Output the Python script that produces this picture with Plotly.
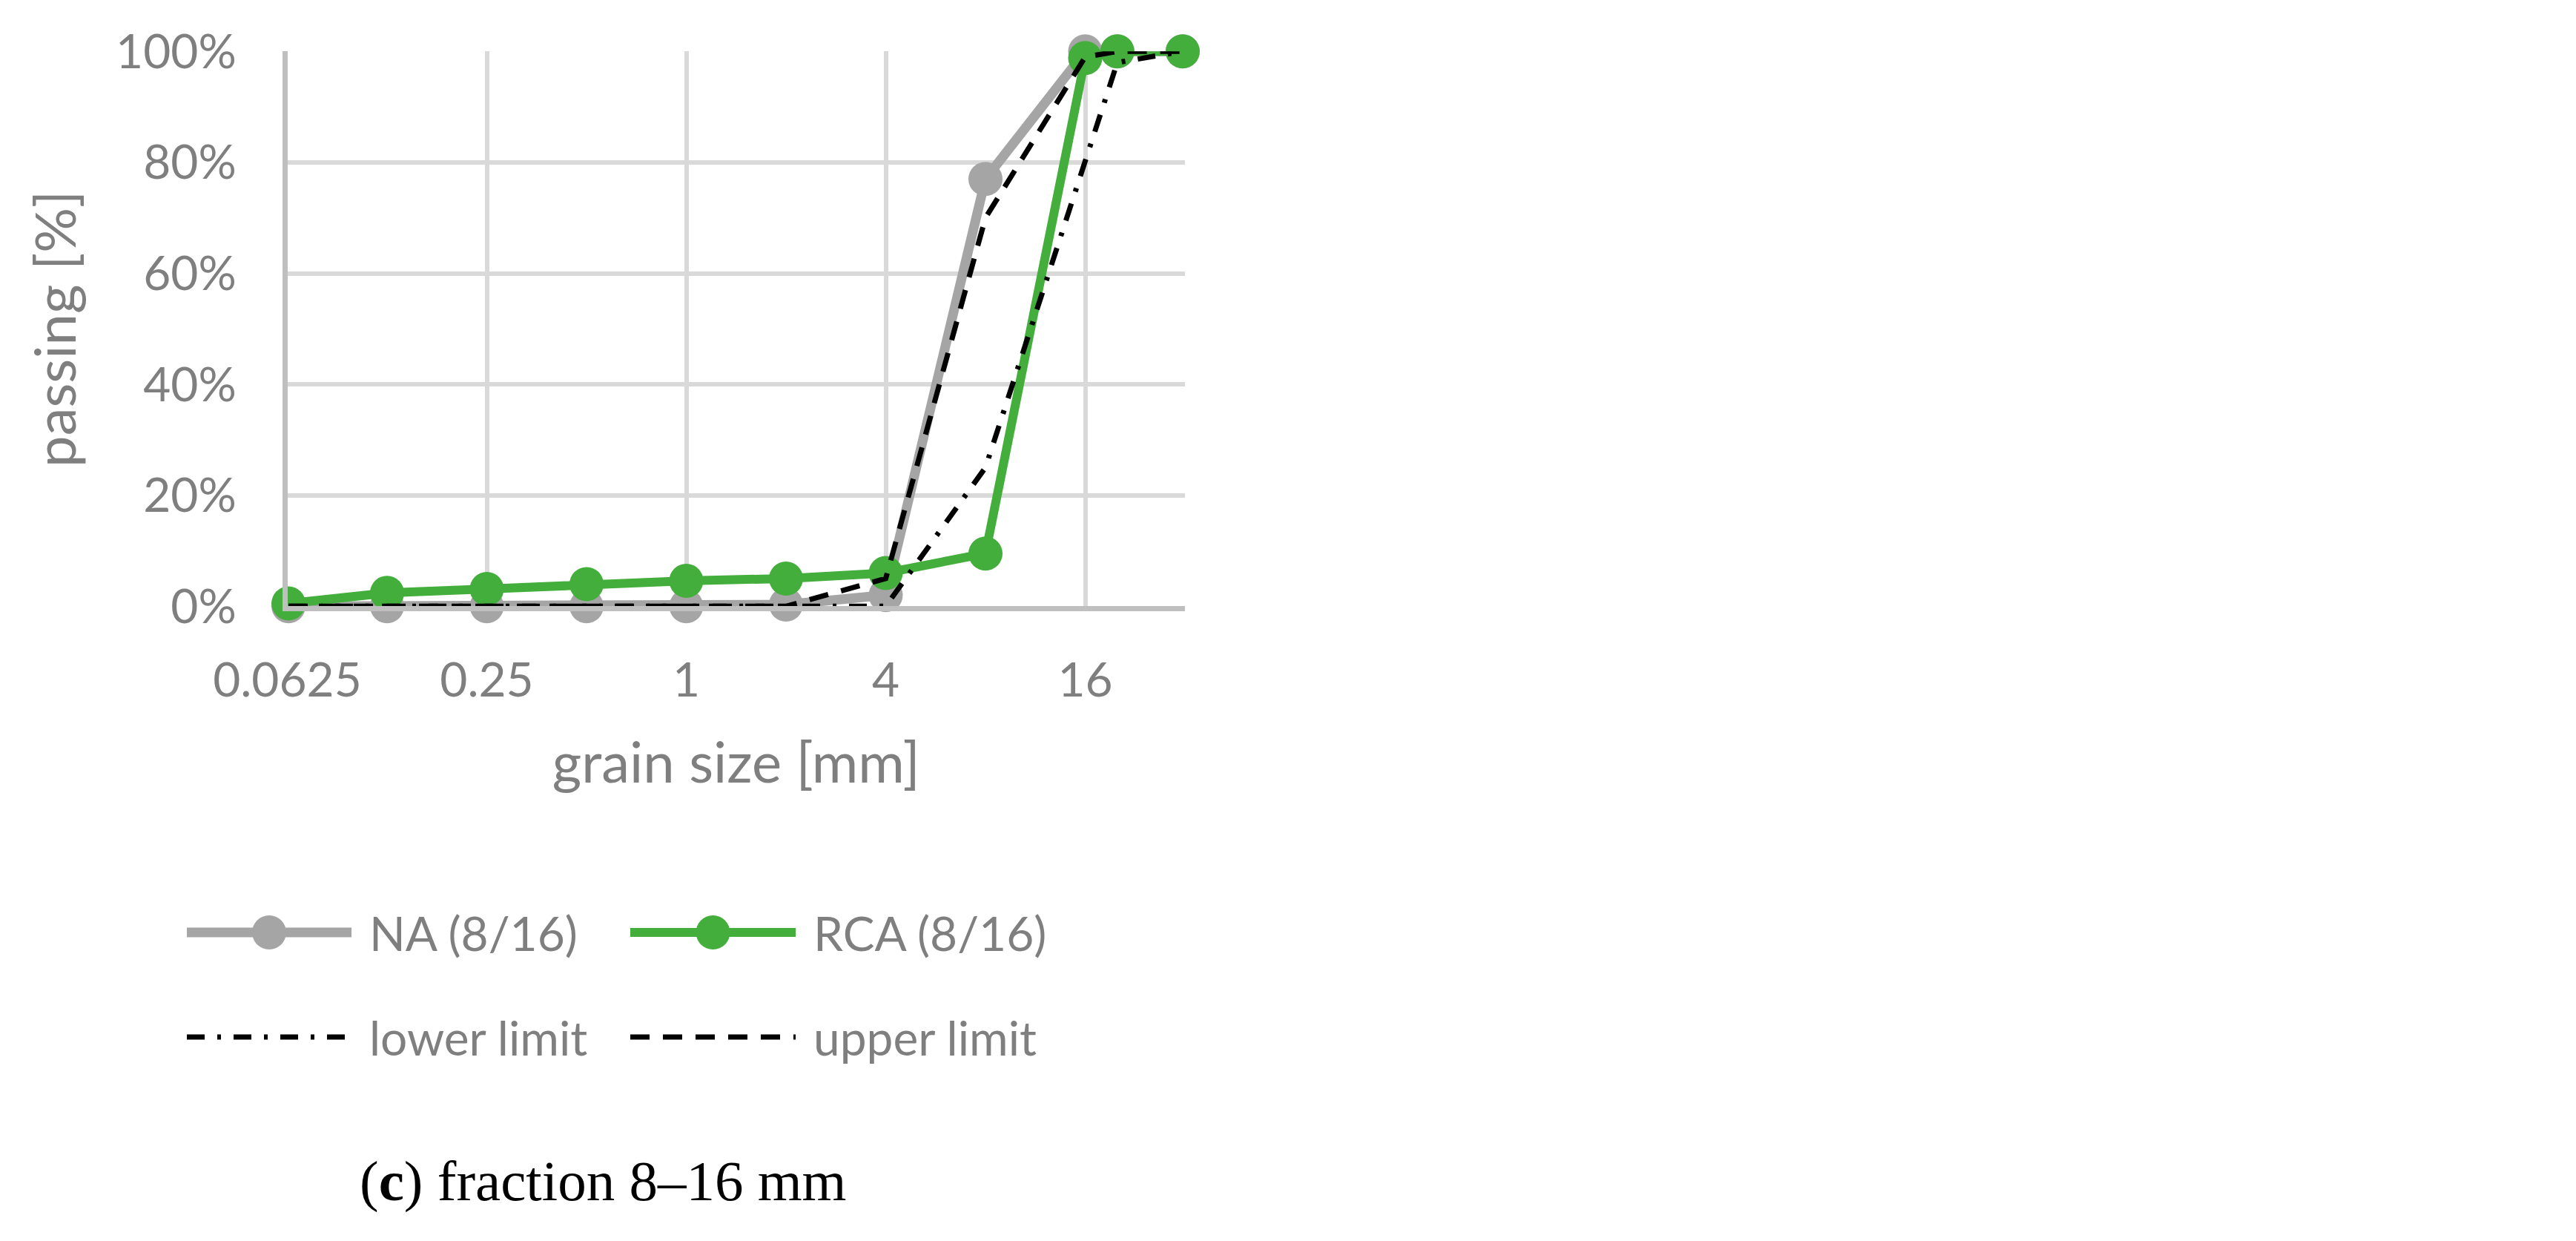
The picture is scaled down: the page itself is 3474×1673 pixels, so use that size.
import plotly.graph_objects as go

# ---------------- data ----------------
grain_size = [0.063, 0.125, 0.25, 0.5, 1, 2, 4, 8, 16, 20, 31.5]
na_passing = [0, 0, 0, 0, 0, 0.3, 2, 77, 100, 100, 100]
rca_passing = [0.5, 2.4, 3.1, 4.0, 4.6, 5.0, 6.0, 9.5, 98.8, 100, 100]
lower_limit = [0, 0, 0, 0, 0, 0, 0, 25, 80, 98, 100]
upper_limit = [0, 0, 0, 0, 0, 0, 5, 70, 99, 100, 100]

x_tickvals = [0.0625, 0.25, 1, 4, 16]
x_ticktext = ["0.0625", "0.25", "1", "4", "16"]
y_tickvals = [0, 20, 40, 60, 80, 100]
y_ticktext = ["0%", "20%", "40%", "60%", "80%", "100%"]

series_names = ["NA (8/16)", "RCA (8/16)", "lower limit", "upper limit"]

# ---------------- styles ----------------
W, H = 3474, 1673
GRAY = "#A5A5A5"
GREEN = "#43AE3B"
TEXT = "#7F7F7F"
FONT = "Lato"
DASHDOT = "24px,17px,5px,17px"
DASH = "26px,18px"

def px_x(p):
    return p / W

def px_y(p):
    return 1 - p / H

fig = go.Figure()

fig.add_trace(go.Scatter(
    x=grain_size, y=na_passing, name=series_names[0], mode="lines+markers",
    line=dict(color=GRAY, width=13), marker=dict(color=GRAY, size=46),
    cliponaxis=False, showlegend=False))
fig.add_trace(go.Scatter(
    x=grain_size, y=rca_passing, name=series_names[1], mode="lines+markers",
    line=dict(color=GREEN, width=12), marker=dict(color=GREEN, size=46),
    cliponaxis=False, showlegend=False))
fig.add_trace(go.Scatter(
    x=grain_size, y=lower_limit, name=series_names[2], mode="lines",
    line=dict(color="black", width=7, dash=DASHDOT),
    cliponaxis=False, showlegend=False))
fig.add_trace(go.Scatter(
    x=grain_size, y=upper_limit, name=series_names[3], mode="lines",
    line=dict(color="black", width=7, dash=DASH),
    cliponaxis=False, showlegend=False))

# ---------------- custom legend on a pixel-scaled overlay axis ----------------
leg_rows = [1257, 1398]
leg_cols = [(252, 474, 496), (850, 1073, 1095)]
leg_styles = [
    dict(line=dict(color=GRAY, width=13), marker=dict(color=GRAY, size=46), mode="lines+markers"),
    dict(line=dict(color=GREEN, width=12), marker=dict(color=GREEN, size=46), mode="lines+markers"),
    dict(line=dict(color="black", width=7, dash=DASHDOT), mode="lines"),
    dict(line=dict(color="black", width=7, dash=DASH), mode="lines"),
]
annotations = []
for i, name in enumerate(series_names):
    row = leg_rows[i // 2]
    x0, x1, xt = leg_cols[i % 2]
    st = leg_styles[i]
    fig.add_trace(go.Scatter(x=[x0, x1], y=[row, row], mode="lines", line=st["line"],
                             xaxis="x2", yaxis="y2", showlegend=False, hoverinfo="skip"))
    if st["mode"] == "lines+markers":
        fig.add_trace(go.Scatter(x=[(x0 + x1) / 2], y=[row], mode="markers", marker=st["marker"],
                                 xaxis="x2", yaxis="y2", showlegend=False, hoverinfo="skip"))
    annotations.append(dict(x=xt, y=row, xref="x2", yref="y2", text=name, showarrow=False,
                            xanchor="left", yanchor="middle",
                            font=dict(family=FONT, size=64, color=TEXT)))

annotations.append(dict(x=483, y=1592, xref="x2", yref="y2",
                        text="(<b>c</b>) fraction 8–16 mm", showarrow=False,
                        xanchor="left", yanchor="middle",
                        font=dict(family="Liberation Serif", size=77, color="black")))

fig.update_layout(
    width=W, height=H,
    margin=dict(l=0, r=0, t=0, b=0, autoexpand=False),
    paper_bgcolor="white", plot_bgcolor="rgba(0,0,0,0)",
    showlegend=False,
    font=dict(family=FONT, color=TEXT),
    xaxis=dict(
        type="log", domain=[px_x(387.5), px_x(1598)],
        range=[-1.2041199826559248, 1.505149978319906],
        tickvals=x_tickvals, ticktext=x_ticktext,
        showgrid=True, gridcolor="#D9D9D9", gridwidth=6,
        showline=True, linecolor="#BFBFBF", linewidth=7,
        zeroline=False, ticks="", ticklabelstandoff=38,
        tickfont=dict(family=FONT, size=64, color=TEXT),
        title=dict(text="grain size [mm]", standoff=52,
                   font=dict(family=FONT, size=76, color=TEXT)),
        anchor="y",
    ),
    yaxis=dict(
        domain=[px_y(817.3), px_y(69.3)], range=[0, 100],
        tickvals=y_tickvals, ticktext=y_ticktext,
        showgrid=True, gridcolor="#D9D9D9", gridwidth=6,
        showline=True, linecolor="#BFBFBF", linewidth=7,
        zeroline=False, ticks="", ticklabelstandoff=49,
        tickfont=dict(family=FONT, size=64, color=TEXT),
        title=dict(text="passing [%]", standoff=31,
                   font=dict(family=FONT, size=76, color=TEXT)),
        anchor="x",
    ),
    xaxis2=dict(domain=[0, 1], range=[0, W], visible=False, fixedrange=True, anchor="y2"),
    yaxis2=dict(domain=[0, 1], range=[H, 0], visible=False, fixedrange=True, anchor="x2"),
    annotations=annotations,
)

fig.write_html("out.html", config={"displayModeBar": False},
               post_script="document.body.style.margin='0';")
